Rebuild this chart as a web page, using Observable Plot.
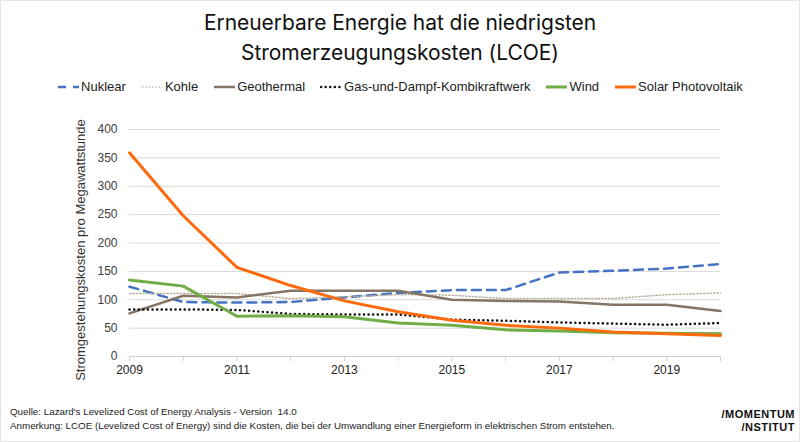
<!DOCTYPE html>
<html>
<head>
<meta charset="utf-8">
<script src="https://cdn.jsdelivr.net/npm/d3@7"></script>
<script src="https://cdn.jsdelivr.net/npm/@observablehq/plot@0.6"></script>
<style>
  html, body { margin: 0; padding: 0; background: #fff; }
  #root { position: relative; width: 800px; height: 442px; overflow: hidden; background: #fff; font-family: "Liberation Sans", Arial, sans-serif; }
  #frame { position: absolute; left: 0; top: 0; width: 798px; height: 440px; border: 1px solid #e6e6e6; pointer-events: none; }
  #title { position: absolute; left: 0; width: 800px; top: 8px; text-align: center; font-family: "Inter", sans-serif; font-size: 21px; line-height: 30px; color: #111; letter-spacing: -0.05px; }
  #legend { position: absolute; left: 0; width: 800px; top: 79px; display: flex; justify-content: center; align-items: center; font-size: 13px; color: #222; }
  .item { display: flex; align-items: center; margin: 0 7.5px; }
  .item svg { margin-right: 1px; }
  #chart { position: absolute; left: 0; top: 110px; }
  #ylabel { position: absolute; left: 80px; top: 250px; transform: translate(-50%, -50%) rotate(-90deg); white-space: nowrap; font-size: 13px; color: #333; }
  #foot { position: absolute; left: 10px; top: 405px; font-size: 9.8px; line-height: 14px; color: #222; }
  #logo { position: absolute; right: 5px; top: 408px; text-align: right; font-size: 11px; line-height: 13px; font-weight: bold; color: #111; letter-spacing: 0.5px; }
</style>
</head>
<body>
<div id="root">
  <div id="title">Erneuerbare Energie hat die niedrigsten<br>Stromerzeugungskosten (LCOE)</div>
  <div id="legend"></div>
  <div id="chart"></div>
  <div id="ylabel">Stromgestehungskosten pro Megawattstunde</div>
  <div id="foot">Quelle: Lazard's Levelized Cost of Energy Analysis - Version&nbsp; 14.0<br>Anmerkung: LCOE (Levelized Cost of Energy) sind die Kosten, die bei der Umwandlung einer Energieform in elektrischen Strom entstehen.</div>
  <div id="logo">/MOMENTUM<br>/NSTITUT</div>
  <div id="frame"></div>
</div>
<script>
const years = [2009, 2010, 2011, 2012, 2013, 2014, 2015, 2016, 2017, 2018, 2019, 2020];
const seriesNames = ["Nuklear", "Kohle", "Geothermal", "Gas-und-Dampf-Kombikraftwerk", "Wind", "Solar Photovoltaik"];
const nuklear    = [123, 96, 95, 96, 104, 112, 117, 117, 148, 151, 155, 163];
const kohle      = [111, 111, 111, 102, 105, 109, 108, 102, 102, 102, 109, 112];
const geothermal = [76, 107, 104, 116, 116, 116, 100, 98, 97, 91, 91, 80];
const gud        = [83, 83, 82, 75, 74, 74, 65, 63, 60, 58, 56, 59];
const wind       = [135, 124, 71, 72, 70, 59, 55, 47, 45, 42, 41, 40];
const solar      = [359, 248, 157, 125, 98, 79, 64, 55, 50, 43, 40, 37];
const yTicks = [0, 50, 100, 150, 200, 250, 300, 350, 400];
const xLabelYears = [2009, 2011, 2013, 2015, 2017, 2019];

const seriesValues = [nuklear, kohle, geothermal, gud, wind, solar];
const styles = [
  {stroke: "#4472C4", strokeWidth: 2.5, strokeDasharray: "9,6"},
  {stroke: "#B9AE97", strokeWidth: 1.5, strokeDasharray: "1.2,2.2"},
  {stroke: "#857565", strokeWidth: 2.5},
  {stroke: "#111111", strokeWidth: 2.5, strokeDasharray: "0.1,4.5", strokeLinecap: "round"},
  {stroke: "#70AD47", strokeWidth: 3},
  {stroke: "#FF6A0D", strokeWidth: 3}
];

const data = seriesNames.flatMap((name, i) => years.map((year, j) => ({series: name, year, value: seriesValues[i][j]})));

// Legend
const legend = document.getElementById("legend");
seriesNames.forEach((name, i) => {
  const s = styles[i];
  const item = document.createElement("div");
  item.className = "item";
  const sw = d3.create("svg").attr("width", 23).attr("height", 10);
  sw.append("line").attr("x1", 1).attr("x2", 22).attr("y1", 5).attr("y2", 5)
    .attr("stroke", s.stroke).attr("stroke-width", s.strokeWidth)
    .attr("stroke-dasharray", i === 0 ? "8,7" : (s.strokeDasharray || null))
    .attr("stroke-linecap", s.strokeLinecap || null);
  item.appendChild(sw.node());
  const t = document.createElement("span");
  t.textContent = name;
  item.appendChild(t);
  legend.appendChild(item);
});

const marks = [
  Plot.gridY(yTicks, {stroke: "#d9d9d9", strokeOpacity: 1}),
  Plot.ruleY([0], {stroke: "#d0d0d0"}),
  Plot.axisY(yTicks, {tickSize: 0, tickPadding: 12, fill: "#404040", fontSize: 12, label: null}),
  Plot.axisX(years, {tickSize: 5, tickPadding: 4, stroke: "#d0d0d0", fill: "#222", fontSize: 12,
    tickFormat: d => xLabelYears.includes(d) ? String(d) : "", label: null}),
  ...seriesNames.map((name, i) => Plot.line(data.filter(d => d.series === name), {x: "year", y: "value", ...styles[i]}))
];

const chart = Plot.plot({
  width: 800,
  height: 275,
  marginLeft: 129,
  marginRight: 80,
  marginTop: 19,
  marginBottom: 29,
  style: {fontFamily: "Liberation Sans, Arial, sans-serif", fontSize: "12px", background: "transparent"},
  x: {domain: [2009, 2020]},
  y: {domain: [0, 400]},
  marks
});
document.getElementById("chart").appendChild(chart);
</script>
</body>
</html>
